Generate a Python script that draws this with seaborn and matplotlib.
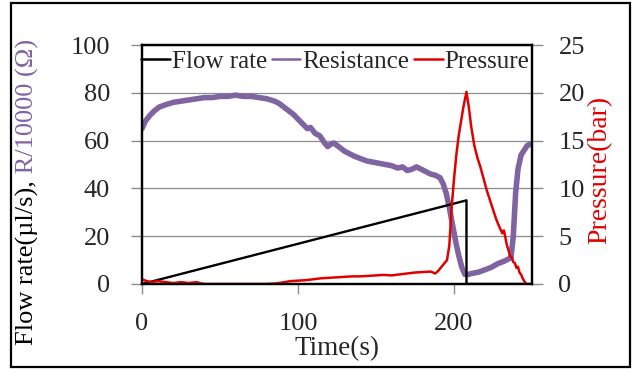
import matplotlib
matplotlib.use("Agg")
import matplotlib.pyplot as plt
from matplotlib.lines import Line2D
from matplotlib.patches import Rectangle
import seaborn as sns
import pandas as pd

# ---------------- data ----------------
flow_t = [0, 208, 208, 250]
flow_v = [0, 35, 0, 0]

res_t = [0, 2, 5, 8, 11, 15, 20, 25, 30, 35, 40, 45, 50, 55, 60, 65, 70, 75, 80, 85,
         88, 91, 94, 97, 100, 103, 106, 108, 111, 114, 117, 119, 121, 123, 125, 127,
         130, 133, 136, 140, 144, 148, 152, 156, 160, 164, 167, 170, 173, 176, 179,
         182, 185, 188, 191, 193, 195, 197, 199, 201, 203, 205, 207, 209, 212, 216,
         220, 224, 228, 232, 235, 236.5, 238, 239.5, 241, 243, 245, 247, 249]
res_v = [65, 68, 70.5, 72.5, 74, 75, 76, 76.5, 77, 77.5, 78, 78, 78.5, 78.5, 79, 78.5,
         78.5, 78, 77.5, 76.5, 75.5, 74, 72.5, 71, 69, 67, 65, 65.5, 63, 62, 59, 57.5,
         58.5, 59, 58, 57, 55.5, 54.5, 53.5, 52.5, 51.5, 51, 50.5, 50, 49.5, 48.5, 49,
         47.5, 48, 49, 48, 47, 46, 45.5, 44.5, 42, 38, 32, 25, 18, 12, 7, 4, 4, 4.5, 5,
         6, 7, 8.5, 9.5, 10.5, 11, 20, 38, 48, 54, 56, 58, 58.5]

p_t = [0, 3, 6, 10, 15, 20, 25, 30, 35, 38, 40, 60, 80, 85, 90, 95, 100, 105, 110,
       115, 120, 125, 130, 135, 140, 145, 150, 155, 160, 165, 170, 175, 180, 185, 188,
       190, 192, 194, 195.5, 197, 198.5, 200, 201.5, 203, 204.5, 206, 207, 208, 209.5,
       211, 213, 215, 217, 219, 221, 223, 225, 227, 229, 231, 232, 233, 234, 235, 236,
       237, 238, 239, 240, 241, 242, 243, 244, 245, 246]
p_v = [0.5, 0.3, 0.2, 0.3, 0.2, 0.1, 0.2, 0.1, 0.2, 0.05, 0, 0, 0, 0.05, 0.15, 0.3,
       0.35, 0.4, 0.5, 0.6, 0.65, 0.7, 0.75, 0.8, 0.8, 0.85, 0.9, 0.95, 0.9, 1.0, 1.1,
       1.2, 1.25, 1.3, 1.1, 1.4, 1.8, 2.2, 2.5, 4, 8, 11, 13.5, 15.5, 17, 18.5, 19.3,
       20.1, 18.5, 16.5, 14.5, 13.2, 12.2, 11, 9.8, 8.8, 7.8, 6.8, 6, 5.3, 5.6, 4.8,
       4.0, 3.5, 2.9, 2.8, 2.3, 2.2, 1.7, 1.8, 1.2, 1.0, 0.6, 0.3, 0.1]

x_ticks = [0, 100, 200]
y_ticks = [0, 20, 40, 60, 80, 100]
y2_ticks = [0, 5, 10, 15, 20, 25]

# ---------------- style ----------------
sns.set_style("white")
plt.rcParams['font.family'] = ['Liberation Serif', 'DejaVu Serif']

PURPLE = '#8064A2'
RED = '#E00000'
GRAY = '#8c8c8c'

W, H = 632, 369
fig = plt.figure(figsize=(W / 100, H / 100), dpi=100)
ax = fig.add_axes([142 / W, 1 - 284 / H, (532 - 142) / W, (284 - 45) / H])
ax2 = ax.twinx()

df_flow = pd.DataFrame({'t': flow_t, 'v': flow_v})
df_res = pd.DataFrame({'t': res_t, 'v': res_v})
df_p = pd.DataFrame({'t': p_t, 'v': p_v})

sns.lineplot(data=df_res, x='t', y='v', ax=ax, color=PURPLE, lw=4,
             estimator=None, sort=False)
sns.lineplot(data=df_flow, x='t', y='v', ax=ax, color='black', lw=1.7,
             estimator=None, sort=False)
sns.lineplot(data=df_p, x='t', y='v', ax=ax2, color=RED, lw=1.8,
             estimator=None, sort=False)

ax.set_xlim(0, 250)
ax.set_ylim(0, 100)
ax2.set_ylim(0, 25)
ax.set_xticks(x_ticks)
ax.set_yticks(y_ticks)
ax2.set_yticks(y2_ticks)
ax.set_ylabel('')
ax2.set_ylabel('')
ax.set_xlabel('Time(s)', fontsize=19.5, labelpad=1)

ax.yaxis.grid(True, color=GRAY, lw=0.9)
ax.xaxis.grid(False)
ax.set_axisbelow(True)

ax.tick_params(axis='y', direction='out', length=8, width=1, color=GRAY,
               labelsize=19, pad=15, left=True)
ax.tick_params(axis='x', direction='out', length=7, width=1, color=GRAY,
               labelsize=19, pad=14, bottom=True)
ax2.tick_params(axis='y', direction='out', length=8, width=1, color=GRAY,
                labelsize=19, pad=11, right=True)

for a in (ax, ax2):
    for s in a.spines.values():
        s.set_color('black')
        s.set_linewidth(1.6)
        s.set_visible(True)

handles = [Line2D([], [], color='black', lw=1.8),
           Line2D([], [], color=PURPLE, lw=1.8),
           Line2D([], [], color=RED, lw=1.8)]
leg = ax2.legend(handles, ['Flow rate', 'Resistance', 'Pressure'], loc='upper left',
                 bbox_to_anchor=(-0.015, 1.0), ncol=3, frameon=False, fontsize=18,
                 handlelength=1.15, handletextpad=0.08, columnspacing=0.18,
                 borderaxespad=0.1, borderpad=0.1)

# right label
fig.text(600 / W, 1 - 170 / H, 'Pressure(bar)', rotation=90, color=RED,
         fontsize=20, ha='center', va='center')

# two-colour left label
fig.canvas.draw()
renderer = fig.canvas.get_renderer()
t1 = fig.text(27 / W, 24 / H, 'Flow rate(µl/s),', rotation=90, color='black',
              fontsize=19, ha='center', va='bottom')
bb = t1.get_window_extent(renderer)
fig.text(27 / W, bb.y1 / H, ' R/10000 (Ω)', rotation=90, color=PURPLE,
         fontsize=19, ha='center', va='bottom')

# outer frame
fig.patches.append(Rectangle((11 / W, 2 / H), (630 - 11) / W, (366 - 2) / H,
                             transform=fig.transFigure, fill=False, lw=1.6,
                             ec='black'))

fig.savefig('out.png', dpi=100)
